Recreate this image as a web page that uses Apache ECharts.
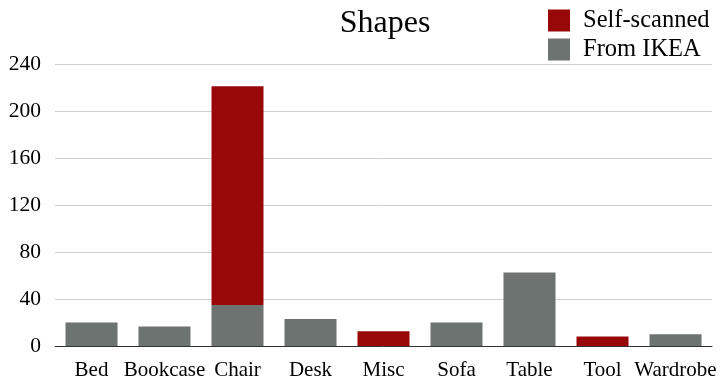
<!DOCTYPE html>
<html><head><meta charset="utf-8">
<script src="https://cdn.jsdelivr.net/npm/echarts@6/dist/echarts.min.js"></script>
<style>html,body{margin:0;padding:0;background:#fff}#c{width:720px;height:384px}</style>
</head><body><div id="c"></div>
<script>
const categories = ["Bed","Bookcase","Chair","Desk","Misc","Sofa","Table","Tool","Wardrobe"];
const fromIkea = [20, 16.5, 35, 23, 0, 20, 62.5, 0, 10];
const selfScanned = [0, 0, 186, 0, 12.5, 0, 0, 8, 0];
const yTicks = [0, 40, 80, 120, 160, 200, 240];
const font = "Liberation Serif";
const chart = echarts.init(document.getElementById('c'));
chart.setOption({
  animation: false,
  textStyle: {fontFamily: font},
  title: {text: "Shapes", left: 380, top: 3, textAlign: 'center',
    textStyle: {fontFamily: font, fontSize: 32, fontWeight: 'normal', color: '#000'}},
  legend: {orient: 'vertical', left: 543, top: 3, itemWidth: 22, itemHeight: 22, itemGap: 4,
    icon: 'rect', data: ["Self-scanned", "From IKEA"],
    textStyle: {fontFamily: font, fontSize: 24.5, color: '#000', padding: [0,0,0,8]}},
  grid: {left: 55, right: 8, top: 64, bottom: 38},
  xAxis: {type: 'category', data: categories,
    axisLine: {lineStyle: {color: '#333', width: 1}}, axisTick: {show: false},
    axisLabel: {fontFamily: font, fontSize: 21, color: '#000', margin: 14, interval: 0}},
  yAxis: {type: 'value', min: yTicks[0], max: yTicks[yTicks.length-1], interval: 40,
    axisLine: {show: false}, axisTick: {show: false},
    splitLine: {lineStyle: {color: '#cfcfcf', width: 1}},
    axisLabel: {fontFamily: font, fontSize: 21.5, color: '#000', margin: 14}},
  series: [
    {name: "From IKEA", type: 'bar', stack: 's', data: fromIkea, barWidth: 52,
     itemStyle: {color: '#6d7370'}},
    {name: "Self-scanned", type: 'bar', stack: 's', data: selfScanned, barWidth: 52,
     itemStyle: {color: '#990808'}}
  ]
});
</script></body></html>
